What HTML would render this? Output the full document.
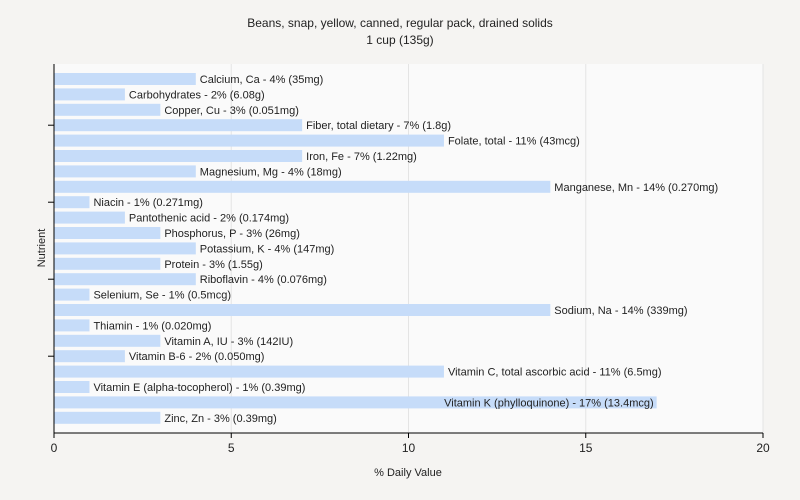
<!DOCTYPE html>
<html><head><meta charset="utf-8"><style>
body{margin:0;background:#f5f4f2;font-family:"Liberation Sans",sans-serif;}
svg{display:block}
text{font-family:"Liberation Sans",sans-serif;fill:#222}
</style></head><body>
<svg id="c" width="800" height="500">
<rect width="800" height="500" fill="#f5f4f2"/>
<text x="400" y="27" text-anchor="middle" font-size="12">Beans, snap, yellow, canned, regular pack, drained solids</text>
<text x="400" y="44" text-anchor="middle" font-size="12">1 cup (135g)</text>
<rect x="54" y="64" width="709" height="369" fill="#fafafa"/>
<g id="grid"></g><g id="bars"></g><g id="axes"></g>
<text x="408" y="476" text-anchor="middle" font-size="11">% Daily Value</text>
<text transform="translate(45,248) rotate(-90)" text-anchor="middle" font-size="11">Nutrient</text>
</svg>
<script>
const categories=["Calcium, Ca","Carbohydrates","Copper, Cu","Fiber, total dietary","Folate, total","Iron, Fe","Magnesium, Mg","Manganese, Mn","Niacin","Pantothenic acid","Phosphorus, P","Potassium, K","Protein","Riboflavin","Selenium, Se","Sodium, Na","Thiamin","Vitamin A, IU","Vitamin B-6","Vitamin C, total ascorbic acid","Vitamin E (alpha-tocopherol)","Vitamin K (phylloquinone)","Zinc, Zn"];
const values=[4,2,3,7,11,7,4,14,1,2,3,4,3,4,1,14,1,3,2,11,1,17,3];
const amounts=["35mg","6.08g","0.051mg","1.8g","43mcg","1.22mg","18mg","0.270mg","0.271mg","0.174mg","26mg","147mg","1.55g","0.076mg","0.5mcg","339mg","0.020mg","142IU","0.050mg","6.5mg","0.39mg","13.4mcg","0.39mg"];
const xTicks=[0,5,10,15,20];
const NS="http://www.w3.org/2000/svg";
const X0=54,X1=763,Y0=64,Y1=433;
const x=v=>X0+(v-20*0)*(X1-X0)/20;
const step=15.4,first=79;
const y=i=>first+i*step;
function mk(t,a,p){const e=document.createElementNS(NS,t);for(const k in a)e.setAttribute(k,a[k]);p.appendChild(e);return e;}
const grid=document.getElementById('grid'),bars=document.getElementById('bars'),axes=document.getElementById('axes');
xTicks.forEach(t=>{if(t>0){const g=mk('line',{x1:x(t),x2:x(t),y1:Y0,y2:Y1,stroke:'#e4e4e4'},grid);

}
const tk=mk('line',{x1:x(t),x2:x(t),y1:Y1,y2:Y1+5,stroke:'#000'},axes);


const tl=mk('text',{x:x(t),y:Y1+19,'text-anchor':'middle','font-size':12},axes);tl.textContent=t;

});
categories.forEach((c,i)=>{
const r=mk('rect',{x:X0,y:y(i)-6,width:x(values[i])-X0,height:12,fill:'#c6dcf9'},bars);


const label=c+' - '+values[i]+'% ('+amounts[i]+')';
const w=label.length*5.6;
const inside=x(values[i])+4+w>X1;
const t=mk('text',{x:inside?x(values[i])-3:x(values[i])+4,y:y(i)+4,'font-size':11,'text-anchor':inside?'end':'start'},bars);
t.textContent=label;


if(i%5===3){const tk=mk('line',{x1:X0-6,x2:X0,y1:y(i),y2:y(i),stroke:'#000'},axes);

}
});
const ya=mk('line',{x1:X0,x2:X0,y1:Y0,y2:Y1,stroke:'#000'},axes);


const xa=mk('line',{x1:X0,x2:X1,y1:Y1,y2:Y1,stroke:'#000'},axes);


</script>
</body></html>
